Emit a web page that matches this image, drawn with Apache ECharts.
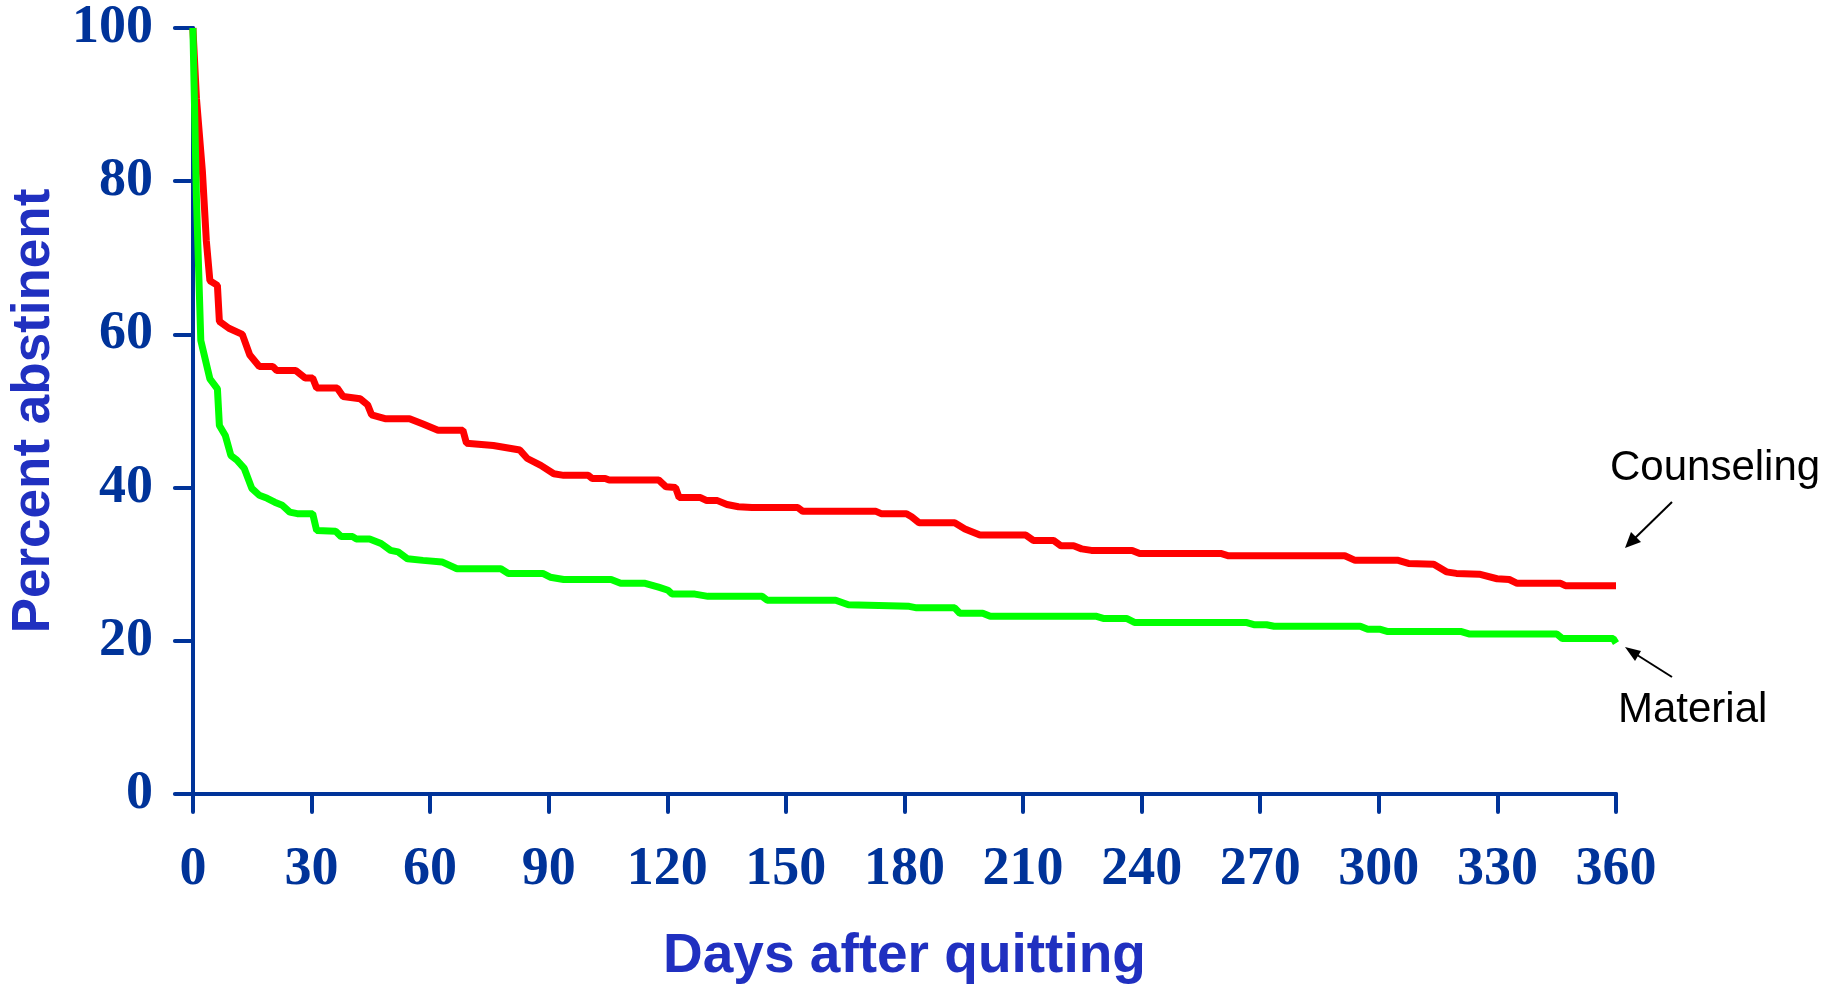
<!DOCTYPE html>
<html>
<head>
<meta charset="utf-8">
<script src="https://cdn.jsdelivr.net/npm/echarts@6/dist/echarts.min.js"></script>
<style>
  html, body { margin: 0; padding: 0; background: #fff; }
  #main { width: 1843px; height: 989px; }
</style>
</head>
<body>
<div id="main"></div>
<script>
// days after quitting / percent abstinent
var counselingDays = [0, 0.9, 2.4, 3.4, 4.3, 6.2, 6.7, 9.1, 12.5, 14.4, 16.8, 20.2, 21.2, 26, 28.4, 30.3, 31.3, 36.5, 38, 42.3,
  44.2, 45.2, 48.6, 54.8, 58.2, 62, 68.3, 69.2, 76, 82.7, 84.6, 88, 91.3, 93.8, 100, 101, 104.3, 105.3, 117.8, 119.7,
  122.1, 123, 128.4, 130, 132.7, 135.1, 138, 141.4, 153, 154.3, 172.8, 174.1, 180.5, 181.8, 183.7, 192.7, 195.3, 199.1, 210.7, 212.6,
  217.7, 219.6, 222.8, 224.8, 227.3, 237.6, 239.5, 260, 262, 291.4, 294, 304.9, 307.5, 313.9, 317.1, 319.6, 325.4, 329.9, 333, 335,
  346, 347.2, 360];
var counselingPct = [100, 90.8, 81.3, 72.2, 67, 66.4, 61.7, 60.8, 60, 57.3, 55.8, 55.8, 55.3, 55.3, 54.3, 54.3, 53.0, 53.0, 51.9, 51.6,
  50.8, 49.5, 49.0, 49.0, 48.3, 47.5, 47.5, 45.8, 45.5, 44.9, 43.8, 42.9, 41.8, 41.6, 41.6, 41.2, 41.2, 41.0, 41.0, 40.1,
  40.0, 38.7, 38.7, 38.3, 38.3, 37.8, 37.5, 37.4, 37.4, 36.9, 36.9, 36.6, 36.6, 36.2, 35.4, 35.4, 34.6, 33.8, 33.8, 33.1,
  33.1, 32.4, 32.4, 32.0, 31.8, 31.8, 31.4, 31.4, 31.1, 31.1, 30.5, 30.5, 30.1, 30.0, 29.0, 28.8, 28.7, 28.1, 28.0, 27.5,
  27.5, 27.2, 27.2];

var materialDays = [0, 0.9, 2.0, 4.3, 6.2, 6.7, 8.2, 9.6, 11.1, 13, 14.9, 16.8, 18.8, 20.7, 22.6, 24.5, 26.4, 30.3, 31.3, 36.1,
  37.5, 40.4, 41.3, 44.7, 47.6, 50, 51.9, 54.3, 58.2, 63, 66.8, 77.9, 79.8, 88.5, 90.4, 93.8, 105.8, 108.2, 114.4, 117.8,
  120.2, 121.2, 127, 130.3, 144, 145.3, 162.6, 165.8, 181.2, 183.1, 192.7, 194, 199.8, 201.7, 228.6, 230.5, 236.3, 238.2, 266.4, 268.4,
  271.6, 273.5, 295.3, 297.2, 300.4, 302.3, 320.9, 322.8, 345, 346.4, 359.3, 360];
var materialPct = [100, 77.8, 59.2, 54.2, 52.9, 48.1, 46.8, 44.2, 43.6, 42.5, 39.9, 39.0, 38.6, 38.1, 37.7, 36.8, 36.6, 36.6, 34.4, 34.3,
  33.6, 33.6, 33.3, 33.3, 32.7, 31.8, 31.6, 30.7, 30.5, 30.3, 29.4, 29.4, 28.8, 28.8, 28.3, 28.0, 28.0, 27.5, 27.5, 27.0,
  26.6, 26.1, 26.1, 25.8, 25.8, 25.3, 25.3, 24.7, 24.5, 24.3, 24.3, 23.6, 23.6, 23.2, 23.2, 22.9, 22.9, 22.4, 22.4, 22.1,
  22.1, 21.9, 21.9, 21.5, 21.5, 21.2, 21.2, 20.9, 20.9, 20.3, 20.3, 19.7];

var xTicks = [0, 30, 60, 90, 120, 150, 180, 210, 240, 270, 300, 330, 360];
var yTicks = [0, 20, 40, 60, 80, 100];

function pairs(xs, ys) {
  return xs.map(function (x, i) { return [x, ys[i]]; });
}

var axisBlue = '#003399';
var titleBlue = '#2030c0';

var chart = echarts.init(document.getElementById('main'));

var option = {
  backgroundColor: '#ffffff',
  animation: false,
  grid: { left: 183, right: 227, top: 28, bottom: 191, containLabel: false },
  xAxis: {
    type: 'value',
    min: xTicks[0],
    max: xTicks[xTicks.length - 1],
    interval: 30,
    name: 'Days after quitting',
    nameLocation: 'middle',
    nameGap: 135,
    nameTextStyle: { color: titleBlue, fontSize: 55, fontWeight: 'bold', fontFamily: '"Liberation Sans", Arial, sans-serif' },
    axisLine: { lineStyle: { color: axisBlue, width: 4 } },
    axisTick: { show: true, inside: false, length: 18, lineStyle: { color: axisBlue, width: 4, cap: 'round' } },
    axisLabel: { color: axisBlue, fontSize: 54, fontWeight: 'bold', fontFamily: '"Liberation Serif", "Times New Roman", serif', margin: 49 },
    splitLine: { show: false }
  },
  yAxis: {
    type: 'value',
    min: yTicks[0],
    max: yTicks[yTicks.length - 1],
    interval: 20,
    name: 'Percent abstinent',
    nameLocation: 'middle',
    nameRotate: 90,
    nameGap: 125,
    nameTextStyle: { color: titleBlue, fontSize: 53, fontWeight: 'bold', fontFamily: '"Liberation Sans", Arial, sans-serif' },
    axisLine: { show: true, lineStyle: { color: axisBlue, width: 4 } },
    axisTick: { show: true, inside: false, length: 18, lineStyle: { color: axisBlue, width: 4, cap: 'round' } },
    axisLabel: { color: axisBlue, fontSize: 54, fontWeight: 'bold', fontFamily: '"Liberation Serif", "Times New Roman", serif', margin: 40 },
    splitLine: { show: false }
  },
  series: [
    {
      name: 'Material',
      type: 'line',
      data: pairs(materialDays, materialPct),
      showSymbol: false,
      clip: false,
      lineStyle: { color: '#00ff00', width: 7 },
      z: 3
    },
    {
      name: 'Counseling',
      type: 'line',
      data: pairs(counselingDays, counselingPct),
      showSymbol: false,
      clip: false,
      lineStyle: { color: '#ff0000', width: 7 },
      z: 2
    }
  ],
  graphic: [
    { type: 'text', x: 1610, y: 468, style: { text: 'Counseling', fill: '#000', font: '42px "Liberation Sans", Arial, sans-serif', verticalAlign: 'middle' } },
    { type: 'text', x: 1618, y: 710, style: { text: 'Material', fill: '#000', font: '42px "Liberation Sans", Arial, sans-serif', verticalAlign: 'middle' } },
    { type: 'line', shape: { x1: 1672, y1: 502, x2: 1633, y2: 540 }, style: { stroke: '#000', lineWidth: 2 } },
    { type: 'polygon', shape: { points: [[1625, 548], [1641, 542], [1631, 532]] }, style: { fill: '#000' } },
    { type: 'line', shape: { x1: 1672, y1: 677, x2: 1634, y2: 653 }, style: { stroke: '#000', lineWidth: 2 } },
    { type: 'polygon', shape: { points: [[1625, 647], [1641, 651], [1635, 661]] }, style: { fill: '#000' } }
  ]
};

chart.setOption(option);
</script>
</body>
</html>
